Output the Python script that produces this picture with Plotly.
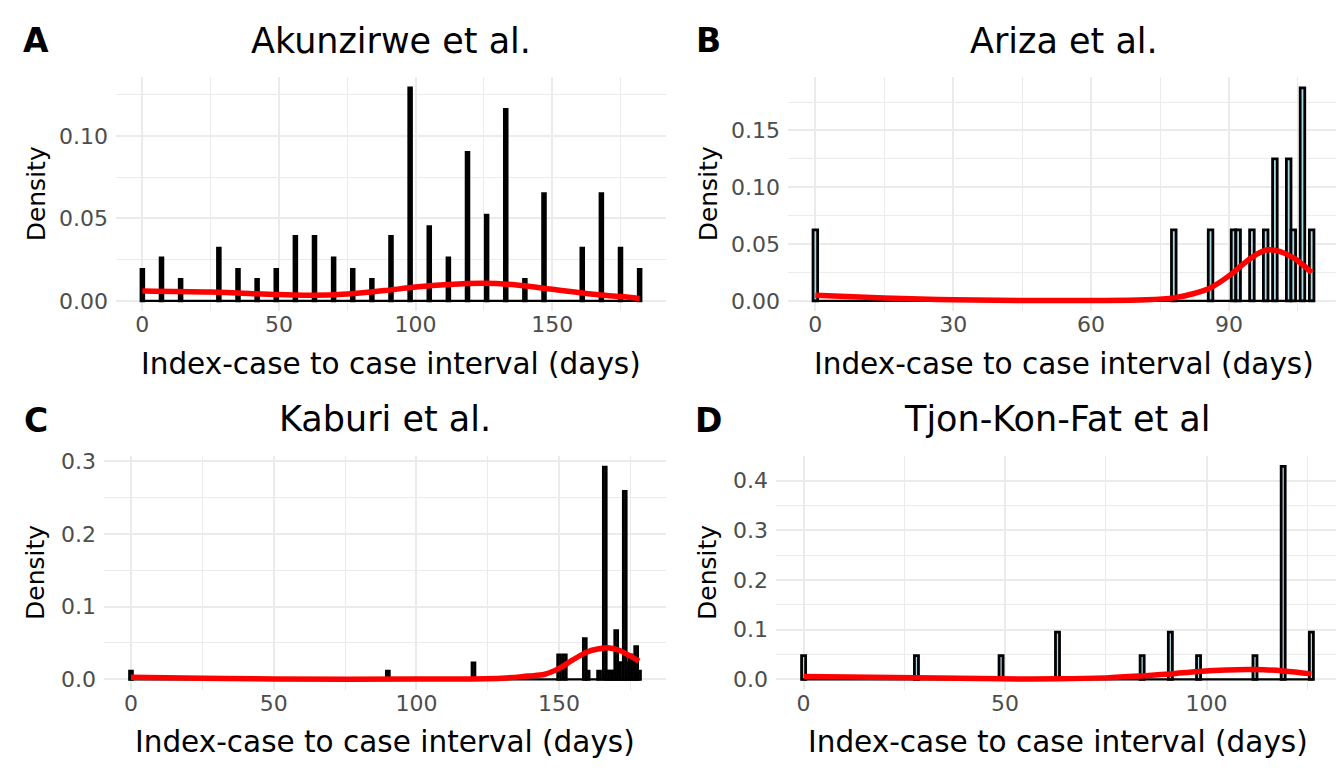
import plotly.graph_objects as go

# ---------------- data ----------------
# Panel A: Akunzirwe et al.
a_days = [0, 7, 14, 28, 35, 42, 49, 56, 63, 70, 77, 84, 91, 98, 105, 112, 119, 126, 133, 140, 147, 161, 168, 175, 182]
a_dens = [0.019, 0.026, 0.013, 0.032, 0.019, 0.013, 0.019, 0.039, 0.039, 0.026, 0.019, 0.013, 0.039, 0.129,
          0.045, 0.026, 0.090, 0.052, 0.116, 0.013, 0.065, 0.032, 0.065, 0.032, 0.019]
a_curve_x = [0, 25, 50, 62, 75, 90, 100, 112, 125, 137, 150, 165, 175, 182]
a_curve_y = [0.006, 0.0053, 0.0038, 0.0034, 0.0042, 0.0065, 0.0084, 0.0099, 0.0106, 0.0096, 0.007, 0.004, 0.0026, 0.0014]

# Panel B: Ariza et al.
b_days = [0, 78, 86, 91, 92, 95, 98, 100, 103, 104, 106, 108]
b_dens = [0.0625, 0.0625, 0.0625, 0.0625, 0.0625, 0.0625, 0.0625, 0.125, 0.125, 0.0625, 0.1875, 0.0625]
b_curve_x = [0, 15, 30, 45, 60, 72, 78, 82, 86, 90, 93, 96, 98.5, 101, 104, 106, 108]
b_curve_y = [0.005, 0.0026, 0.0009, 0.0003, 0.0003, 0.0009, 0.0026, 0.006, 0.0116, 0.022, 0.032, 0.041, 0.045,
             0.0436, 0.038, 0.032, 0.0247]

# Panel C: Kaburi et al.
c_days = [0, 90, 120, 150, 152, 159, 160, 164, 166, 167, 168, 169, 170, 171, 172, 173, 174, 175, 176, 177, 178]
c_dens = [0.0112, 0.0112, 0.0225, 0.0337, 0.0337, 0.056, 0.0112, 0.0112, 0.292, 0.0112, 0.0112, 0.0112, 0.067,
          0.0225, 0.0225, 0.2585, 0.0225, 0.0337, 0.0225, 0.045, 0.0112]
c_curve_x = [0, 25, 50, 100, 130, 139, 145, 150, 154.5, 160, 164, 167, 171, 174.5, 178]
c_curve_y = [0.003, 0.0015, 0.0005, 0.0003, 0.0015, 0.0045, 0.007, 0.015, 0.026, 0.038, 0.042, 0.0436, 0.040,
             0.033, 0.025]

# Panel D: Tjon-Kon-Fat et al
d_days = [0, 28, 49, 63, 84, 91, 98, 112, 119, 126]
d_dens = [0.0476, 0.0476, 0.0476, 0.0952, 0.0476, 0.0952, 0.0476, 0.0476, 0.4286, 0.0952]
d_curve_x = [0, 28, 49, 63, 75, 84, 91, 98, 105, 112, 119, 126]
d_curve_y = [0.006, 0.003, 0.001, 0.001, 0.003, 0.007, 0.011, 0.016, 0.019, 0.0196, 0.017, 0.011]

titles = ["Akunzirwe et al.", "Ariza et al.", "Kaburi et al.", "Tjon-Kon-Fat et al"]
tags = ["A", "B", "C", "D"]
x_title = "Index-case to case interval (days)"
y_title = "Density"

# ---------------- layout helpers ----------------
W, H = 1344, 768
FONT = "DejaVu Sans"
GRID = "#EBEBEB"

def px_x(p):
    return p / W

def px_y(p):
    return 1 - p / H

panels = [
    dict(days=a_days, dens=a_dens, cx=a_curve_x, cy=a_curve_y,
         xdom=(108, 658), ydom=(63, 300), xr=[-9.65, 191.65], yr=[-0.00645, 0.1355],
         xt=[0, 50, 100, 150], xminor=25, yt=[0, 0.05, 0.10], yfmt=".2f", yminor=0.025,
         tagx=28, tagy=26),
    dict(days=b_days, dens=b_dens, cx=b_curve_x, cy=b_curve_y,
         xdom=(780, 1331), ydom=(63, 300), xr=[-5.95, 113.95], yr=[-0.009375, 0.196875],
         xt=[0, 30, 60, 90], xminor=15, yt=[0, 0.05, 0.10, 0.15], yfmt=".2f", yminor=0.025,
         tagx=700, tagy=26),
    dict(days=c_days, dens=c_dens, cx=c_curve_x, cy=c_curve_y,
         xdom=(96, 658), ydom=(446, 683), xr=[-9.45, 187.45], yr=[-0.0147, 0.3077],
         xt=[0, 50, 100, 150], xminor=25, yt=[0, 0.1, 0.2, 0.3], yfmt=".1f", yminor=0.05,
         tagx=28, tagy=410),
    dict(days=d_days, dens=d_dens, cx=d_curve_x, cy=d_curve_y,
         xdom=(768, 1331), ydom=(446, 683), xr=[-6.85, 132.85], yr=[-0.0214, 0.45],
         xt=[0, 50, 100], xminor=25, yt=[0, 0.1, 0.2, 0.3, 0.4], yfmt=".1f", yminor=0.05,
         tagx=700, tagy=410),
]

fig = go.Figure()
annotations = []
layout_axes = {}

for i, p in enumerate(panels):
    n = i + 1
    xa = "x" if n == 1 else f"x{n}"
    ya = "y" if n == 1 else f"y{n}"
    xkey = "xaxis" if n == 1 else f"xaxis{n}"
    ykey = "yaxis" if n == 1 else f"yaxis{n}"

    # zero-height bins outline (baseline)
    fig.add_trace(go.Scatter(x=[p["days"][0] - 0.5, p["days"][-1] + 0.5], y=[0, 0], mode="lines",
                             line=dict(color="black", width=2.2), xaxis=xa, yaxis=ya,
                             showlegend=False, hoverinfo="skip"))
    # histogram bars
    fig.add_trace(go.Bar(x=p["days"], y=p["dens"], width=1,
                         marker=dict(color="#ADD8E6", line=dict(color="black", width=2.8)),
                         xaxis=xa, yaxis=ya, showlegend=False))
    # density curve
    fig.add_trace(go.Scatter(x=p["cx"], y=p["cy"], mode="lines",
                             line=dict(color="red", width=5.5, shape="spline", smoothing=1.0),
                             xaxis=xa, yaxis=ya, showlegend=False))

    layout_axes[xkey] = dict(
        domain=[px_x(p["xdom"][0]), px_x(p["xdom"][1])], range=p["xr"], anchor=ya,
        tickmode="array", tickvals=p["xt"], ticktext=[str(v) for v in p["xt"]],
        showgrid=True, gridcolor=GRID, gridwidth=2, zeroline=False, showline=False,
        ticks="", tickfont=dict(family=FONT, size=22, color="#4D4D4D"), ticklabelstandoff=-2,
        minor=dict(dtick=p["xminor"], tick0=0, showgrid=True, gridcolor=GRID, gridwidth=1),
        fixedrange=True,
    )
    layout_axes[ykey] = dict(
        domain=[px_y(p["ydom"][1]), px_y(p["ydom"][0])], range=p["yr"], anchor=xa,
        tickmode="array", tickvals=p["yt"], ticktext=[format(v, p["yfmt"]) for v in p["yt"]],
        showgrid=True, gridcolor=GRID, gridwidth=2, zeroline=False, showline=False,
        ticks="", tickfont=dict(family=FONT, size=22, color="#4D4D4D"), ticklabelstandoff=7,
        minor=dict(dtick=p["yminor"], tick0=0, showgrid=True, gridcolor=GRID, gridwidth=1),
        fixedrange=True,
    )

    xc = (p["xdom"][0] + p["xdom"][1]) / 2
    # panel title
    annotations.append(dict(text=titles[i], x=px_x(xc), y=px_y(p["ydom"][0] - 37), xref="paper", yref="paper",
                            xanchor="center", yanchor="middle", showarrow=False,
                            font=dict(family=FONT, size=35, color="black")))
    # tag
    annotations.append(dict(text=f"<b>{tags[i]}</b>", x=px_x(p["tagx"]), y=px_y(p["tagy"]), xref="paper",
                            yref="paper", xanchor="center", yanchor="middle", showarrow=False,
                            font=dict(family=FONT, size=33, color="black")))
    # x title
    annotations.append(dict(text=x_title, x=px_x(xc), y=px_y(p["ydom"][1] + 53), xref="paper", yref="paper",
                            xanchor="center", yanchor="middle", showarrow=False,
                            font=dict(family=FONT, size=29.5, color="black")))
    # y title
    yc = (p["ydom"][0] + p["ydom"][1]) / 2
    annotations.append(dict(text=y_title, x=px_x(p["tagx"]), y=px_y(yc), xref="paper", yref="paper",
                            xanchor="center", yanchor="middle", showarrow=False, textangle=-90,
                            font=dict(family=FONT, size=25, color="black")))

fig.update_layout(
    width=W, height=H, margin=dict(l=0, r=0, t=0, b=0),
    paper_bgcolor="white", plot_bgcolor="white",
    barmode="overlay", annotations=annotations, showlegend=False,
    **layout_axes,
)

fig.write_html("out.html")
